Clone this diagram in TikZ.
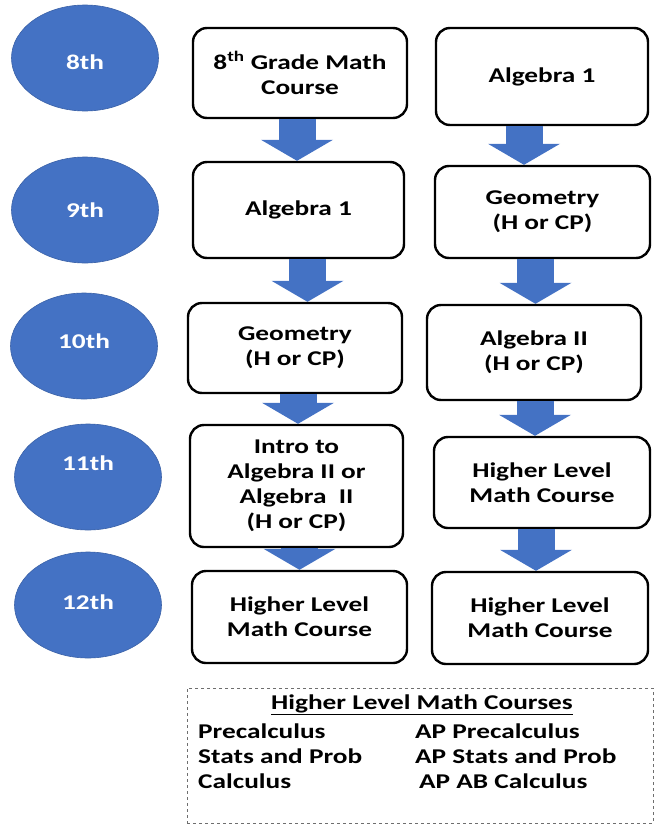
\documentclass[tikz,border=0pt]{standalone}
\usepackage{fontspec}
\setmainfont{Carlito}[FakeStretch=1.3]
\usepackage{tikz}
\usetikzlibrary{arrows.meta,positioning,shapes.geometric}
\usepackage{xcolor}
\definecolor{gradeblue}{RGB}{68,114,196}
\definecolor{legendgray}{RGB}{110,110,110}

\begin{document}
\begin{tikzpicture}[x=1pt, y=-1pt,
  grade/.style={ellipse, fill=gradeblue, draw=gradeblue!85!black, line width=0.6pt,
                minimum width=147pt, minimum height=106pt,
                font=\fontsize{21}{25}\selectfont\bfseries, text=white},
  course/.style={draw, line width=2.4pt, rounded corners=14pt, fill=white,
                 align=center, inner sep=0pt, font=\fontsize{21}{25}\selectfont\bfseries},
  flow/.style={draw=gradeblue, line width=37pt,
               -{Triangle[line width=0pt, length=21pt, width=72pt]}},
  entry/.style={font=\fontsize{21}{25}\selectfont\bfseries, anchor=west, inner sep=0pt},
]
\useasboundingbox (0,0) rectangle (655,825);

% grade ovals (label lifted a little in some)
\foreach \g/\x/\y/\up in {8/85/58/-4, 9/85/210/0, 10/84/346/5, 11/88/477/14, 12/88/605/3} {
  \node[grade] (g\g) at (\x,\y) {\raisebox{\up pt}[\height][\depth]{\g th}};
}

% left path
\node[course, minimum width=214pt, minimum height=90pt] (l1) at (300,73)
  {8\textsuperscript{th} Grade Math\\Course};
\node[course, minimum width=211pt, minimum height=96pt] (l2) at (298.5,210) {Algebra 1};
\node[course, minimum width=214pt, minimum height=90pt] (l3) at (295,348) {Geometry\\(H or CP)};
\node[course, minimum width=213pt, minimum height=122pt] (l4) at (296.5,486)
  {Intro to\\Algebra II or\\Algebra~ II\\(H or CP)};
\node[course, minimum width=215pt, minimum height=92pt] (l5) at (299.5,617)
  {Higher Level\\Math Course};

% right path
\node[course, minimum width=212pt, minimum height=97pt] (r1) at (542,76.5) {Algebra 1};
\node[course, minimum width=215pt, minimum height=92pt] (r2) at (542.5,212) {Geometry\\(H or CP)};
\node[course, minimum width=214pt, minimum height=95pt] (r3) at (534,352.5) {Algebra II\\(H or CP)};
\node[course, minimum width=216pt, minimum height=91pt] (r4) at (542,482.5) {Higher Level\\Math Course};
\node[course, minimum width=216pt, minimum height=92pt] (r5) at (540,618) {Higher Level\\Math Course};

% block arrows
\foreach \a/\b/\dx in {l1/l2/-3, l2/l3/9, l3/l4/3, l4/l5/3,
                       r1/r2/-18, r2/r3/-7, r3/r4/1, r4/r5/-6} {
  \draw[flow] ([xshift=\dx pt]\a.south) -- ([xshift=\dx pt]\a.south |- \b.north);
}

% legend
\node[draw=legendgray, dashed, line width=0.6pt, minimum width=466pt, minimum height=135pt,
      inner sep=0pt] (lgbox) at (420,755.5) {};
\node[entry, anchor=center] (lgtitle) at (422,705) {\underline{Higher Level Math Courses}};
\foreach \n/\y/\xr/\left/\right in {a/731/415/Precalculus/AP Precalculus,
                                    b/756/415/Stats and Prob/AP Stats and Prob,
                                    c/781/419/Calculus/AP AB Calculus} {
  \node[entry] (lg\n1) at (198,\y) {\left};
  \node[entry] (lg\n2) at (\xr,\y) {\right};
}
\end{tikzpicture}
\end{document}
